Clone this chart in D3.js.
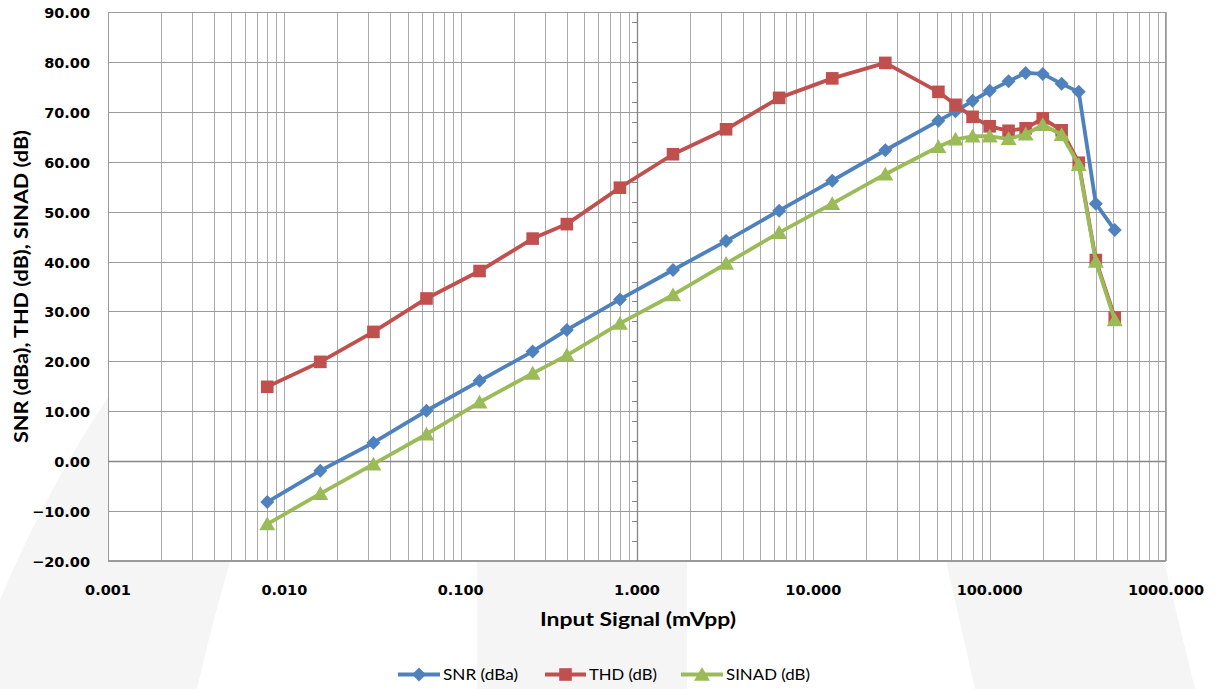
<!DOCTYPE html>
<html>
<head>
<meta charset="utf-8">
<script src="https://cdn.jsdelivr.net/npm/d3@7"></script>
<style>
html,body{margin:0;padding:0;background:#fff;}
svg{display:block;}
</style>
</head>
<body>
<svg id="chart" width="1216" height="689"></svg>
<script>
// ---- data ----
const inputSignal = [0.008, 0.016, 0.032, 0.064, 0.128, 0.256, 0.4, 0.8, 1.6, 3.2, 6.4, 12.8, 25.6, 51.2, 64, 80, 100, 128, 160, 200, 256, 320, 400, 512];
const snr   = [-8.2, -1.9, 3.7, 10.1, 16.1, 22.0, 26.3, 32.4, 38.3, 44.1, 50.2, 56.2, 62.3, 68.2, 70.1, 72.2, 74.2, 76.1, 77.8, 77.6, 75.6, 74.0, 51.6, 46.3];
const thd   = [14.9, 19.9, 25.9, 32.6, 38.1, 44.6, 47.5, 54.8, 61.5, 66.5, 72.8, 76.7, 79.8, 74.0, 71.4, 69.0, 67.1, 66.2, 66.7, 68.7, 66.3, 59.8, 40.3, 28.8];
const sinad = [-12.6, -6.5, -0.6, 5.4, 11.8, 17.6, 21.2, 27.6, 33.3, 39.6, 45.8, 51.6, 57.5, 63.0, 64.5, 65.1, 65.1, 64.6, 65.5, 67.4, 65.4, 59.4, 40.0, 28.3];
const seriesNames = ["SNR (dBa)", "THD (dB)", "SINAD (dB)"];
const xTickValues = [0.001, 0.01, 0.1, 1, 10, 100, 1000];
const yTickValues = [-20, -10, 0, 10, 20, 30, 40, 50, 60, 70, 80, 90];
const xTitle = "Input Signal (mVpp)";
const yTitle = "SNR (dBa), THD (dB), SINAD (dB)";

// ---- layout ----
const L = 108, R = 1166, T = 12, B = 561;
const svg = d3.select("#chart");
const x = d3.scaleLog().domain([0.001, 1000]).range([L, R]);
const y = d3.scaleLinear().domain([-20, 90]).range([B, T]);

// faint background watermark
const wm = svg.append("g").attr("fill", "#f5f5f5");
wm.append("path").attr("d", "M0,600 Q50,480 120,380 L300,380 Q240,500 197,689 L0,689 Z");
wm.append("rect").attr("x", 477).attr("y", 380).attr("width", 210).attr("height", 309);
wm.append("path").attr("d", "M905,380 L1120,380 L1195,689 L975,689 Z");

// plot area
svg.append("rect").attr("x", L).attr("y", T).attr("width", R - L).attr("height", B - T).attr("fill", "#fff");

// gridlines
const grid = svg.append("g");
const minorX = [];
for (let e = -3; e < 3; e++) {
  for (let m = 1; m <= 9; m++) minorX.push(m * Math.pow(10, e));
}
minorX.push(1000);
grid.selectAll("line.vx").data(minorX).join("line")
  .attr("x1", d => Math.round(x(d)) + 0.5).attr("x2", d => Math.round(x(d)) + 0.5)
  .attr("y1", T).attr("y2", B)
  .attr("stroke", "#ababab").attr("stroke-width", 1);
grid.selectAll("line.hy").data(yTickValues).join("line")
  .attr("x1", L).attr("x2", R)
  .attr("y1", d => Math.round(y(d)) + 0.5).attr("y2", d => Math.round(y(d)) + 0.5)
  .attr("stroke", "#9a9a9a").attr("stroke-width", 1);

// plot border
svg.append("rect").attr("x", L + 0.5).attr("y", T + 0.5).attr("width", R - L - 1).attr("height", B - T - 1)
  .attr("fill", "none").attr("stroke", "#9a9a9a").attr("stroke-width", 1);

// axes crossing lines (x axis at y=0, y axis at x=1)
const axg = svg.append("g");
axg.append("line").attr("x1", L).attr("x2", R)
  .attr("y1", Math.round(y(0)) + 0.5).attr("y2", Math.round(y(0)) + 0.5)
  .attr("stroke", "#868686").attr("stroke-width", 1.3);
axg.append("line").attr("x1", Math.round(x(1)) + 0.5).attr("x2", Math.round(x(1)) + 0.5)
  .attr("y1", T).attr("y2", B)
  .attr("stroke", "#868686").attr("stroke-width", 1.3);
// minor ticks on the y axis line
const yMinor = d3.range(-16, 90, 4);
axg.selectAll("line.ym").data(yMinor).join("line")
  .attr("x1", Math.round(x(1)) - 5).attr("x2", Math.round(x(1)))
  .attr("y1", d => Math.round(y(d)) + 0.5).attr("y2", d => Math.round(y(d)) + 0.5)
  .attr("stroke", "#868686").attr("stroke-width", 1);

// tick labels
const fmtX = d3.format(".3f");
const fmtY = d3.format(".2f");
svg.append("g").selectAll("text").data(yTickValues).join("text")
  .attr("x", 90).attr("y", d => y(d) + 6)
  .attr("text-anchor", "end")
  .attr("font-family", "DejaVu Sans").attr("font-weight", "bold").attr("font-size", 14.5)
  .attr("fill", "#000")
  .text(d => fmtY(d));
svg.append("g").selectAll("text").data(xTickValues).join("text")
  .attr("x", d => x(d)).attr("y", 595)
  .attr("text-anchor", "middle")
  .attr("font-family", "DejaVu Sans").attr("font-weight", "bold").attr("font-size", 14.5)
  .attr("fill", "#000")
  .text(d => fmtX(d));

// axis titles
svg.append("text").attr("x", 638).attr("y", 626).attr("text-anchor", "middle")
  .attr("font-family", "Lato").attr("font-weight", "bold").attr("font-size", 19)
  .attr("textLength", 196).attr("lengthAdjust", "spacingAndGlyphs")
  .text(xTitle);
svg.append("text").attr("transform", "translate(28,286.5) rotate(-90)").attr("text-anchor", "middle")
  .attr("font-family", "Lato").attr("font-weight", "bold").attr("font-size", 19)
  .attr("textLength", 313).attr("lengthAdjust", "spacingAndGlyphs")
  .text(yTitle);

// series
const colors = ["#4F81BD", "#C0504D", "#9BBB59"];
const seriesData = [snr, thd, sinad];
function marker(sel, i, cx, cy) {
  if (i === 0) {
    sel.append("path").attr("d", `M${cx},${cy - 7}L${cx + 7},${cy}L${cx},${cy + 7}L${cx - 7},${cy}Z`).attr("fill", colors[0]);
  } else if (i === 1) {
    sel.append("rect").attr("x", cx - 6.3).attr("y", cy - 6.3).attr("width", 12.6).attr("height", 12.6).attr("fill", colors[1]);
  } else {
    sel.append("path").attr("d", `M${cx},${cy - 7.5}L${cx + 8},${cy + 6.3}L${cx - 8},${cy + 6.3}Z`).attr("fill", colors[2]);
  }
}
const line = d3.line().x(d => x(d[0])).y(d => y(d[1]));
seriesData.forEach((vals, i) => {
  const pts = inputSignal.map((v, k) => [v, vals[k]]);
  const g = svg.append("g");
  g.append("path").attr("d", line(pts)).attr("fill", "none")
    .attr("stroke", colors[i]).attr("stroke-width", 3.8).attr("stroke-linejoin", "round");
  pts.forEach(p => marker(g, i, x(p[0]), y(p[1])));
});

// legend
const legendItems = [
  {x1: 398, x2: 440, tx: 443, tl: 75},
  {x1: 545, x2: 586, tx: 589, tl: 68},
  {x1: 681, x2: 723, tx: 726, tl: 84}
];
const lg = svg.append("g");
legendItems.forEach((it, i) => {
  const ly = 674.5;
  lg.append("line").attr("x1", it.x1).attr("x2", it.x2).attr("y1", ly).attr("y2", ly)
    .attr("stroke", colors[i]).attr("stroke-width", 3.8);
  marker(lg, i, (it.x1 + it.x2) / 2, ly);
  lg.append("text").attr("x", it.tx).attr("y", 680)
    .attr("font-family", "Lato").attr("font-size", 15)
    .attr("textLength", it.tl).attr("lengthAdjust", "spacingAndGlyphs")
    .attr("fill", "#000")
    .text(seriesNames[i]);
});
</script>
</body>
</html>
